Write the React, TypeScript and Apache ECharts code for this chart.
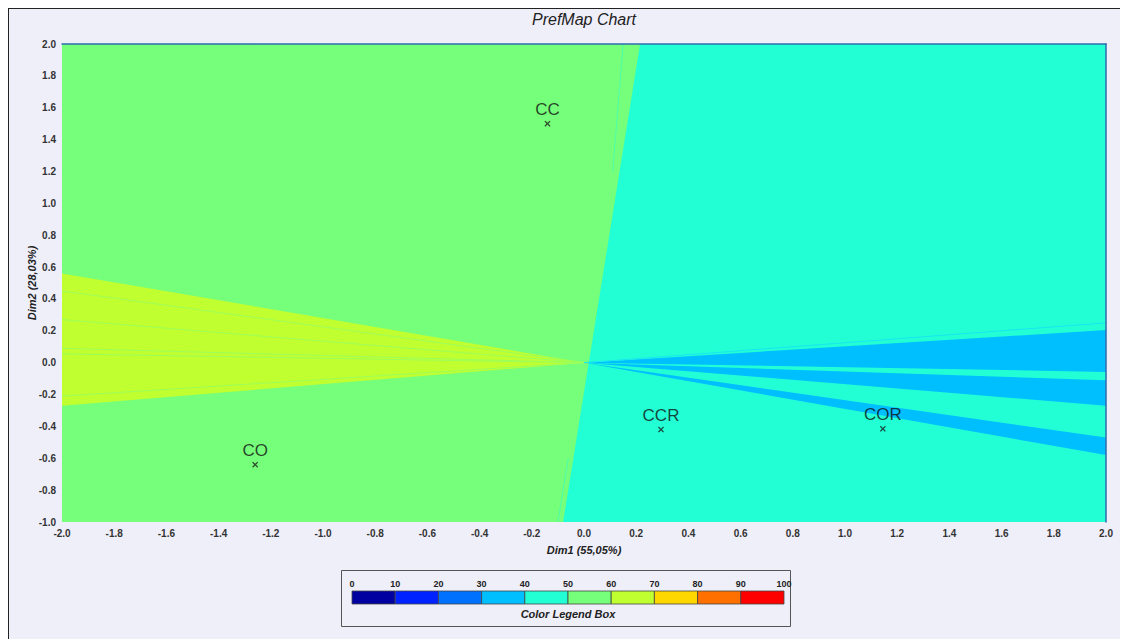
import React, { useEffect, useRef } from "react";
import * as echarts from "echarts";

// ---- data ----
const GREEN = "#76FF7A";
const CYAN = "#22FFD5";
const YELLOW = "#C0FF30";
const BLUE = "#00BFFF";

const xRange = [-2, 2];
const yRange = [-1, 2];

// preference regions (data coordinates)
const greenRegion = [[-2, -1], [2, -1], [2, 2], [-2, 2]];
const cyanRegion = [[0.215, 2], [2, 2], [2, -1], [-0.08, -1]];
const yellowWedge = [[0, 0], [-2, 0.56], [-2, -0.27]];
const blueWedgeA = [[0, 0], [2, 0.205], [2, -0.058]];
const blueWedgeB = [[0, 0], [2, -0.11], [2, -0.27]];
const blueWedgeC = [[0, 0], [2, -0.47], [2, -0.58]];

// thin stripes inside wedges
const greenStripes = [
  [[0, 0], [-2, 0.45]],
  [[0, 0], [-2, 0.27]],
  [[0, 0], [-2, 0.09]],
  [[0, 0], [-2, 0.055]],
  [[0, 0], [-2, -0.21]],
];
const cyanStripes = [[[0, 0], [2, 0.25]]];
const boundaryStripes = [[[0.15, 2], [0.11, 1.2]], [[-0.1, -1], [-0.06, -0.6]]];

// products
const productNames = ["CC", "CO", "CCR", "COR"];
const productX = [-0.14, -1.26, 0.295, 1.145];
const productY = [1.5, -0.64, -0.42, -0.415];

// colour legend
const legendTicks = ["0", "10", "20", "30", "40", "50", "60", "70", "80", "90", "100"];
const legendColors = [
  "#0000A0", "#0022FF", "#0070FF", "#00BFFF", "#22FFD5",
  "#76FF7A", "#C0FF30", "#FFD700", "#FF7000", "#FF0000",
];

const FONT = "'Liberation Sans', Arial, sans-serif";

export default function App() {
  const ref = useRef<HTMLDivElement>(null);

  useEffect(() => {
    if (!ref.current) return;
    const chart = echarts.init(ref.current, null, { renderer: "svg" });

    const polygons = [
      { pts: greenRegion, color: GREEN },
      { pts: cyanRegion, color: CYAN },
      { pts: yellowWedge, color: YELLOW },
      { pts: blueWedgeA, color: BLUE },
      { pts: blueWedgeB, color: BLUE },
      { pts: blueWedgeC, color: BLUE },
    ];
    const lines = [
      ...greenStripes.map((p) => ({ pts: p, color: "#9CFF5A" })),
      ...cyanStripes.map((p) => ({ pts: p, color: "#18E6F0" })),
      ...boundaryStripes.map((p) => ({ pts: p, color: "#4CFFAA" })),
    ];

    // legend graphics
    const bx = 343, by = 582, bw = 432, bh = 13;
    const cw = bw / legendColors.length;
    const legendEls: any[] = [
      {
        type: "rect",
        shape: { x: 332.5, y: 561.5, width: 449, height: 56 },
        style: { fill: "none", stroke: "#555", lineWidth: 1 },
      },
    ];
    legendColors.forEach((c, i) => {
      legendEls.push({
        type: "rect",
        shape: { x: bx + i * cw, y: by, width: cw, height: bh },
        style: { fill: c, stroke: "#444", lineWidth: 0.8 },
      });
    });
    legendTicks.forEach((t, i) => {
      legendEls.push({
        type: "text",
        x: bx + i * cw,
        y: 575,
        style: {
          text: t,
          fill: "#222",
          font: `bold 9px ${FONT}`,
          align: "center",
          verticalAlign: "middle",
        },
      });
    });
    legendEls.push({
      type: "text",
      x: 559,
      y: 605,
      style: {
        text: "Color Legend Box",
        fill: "#222",
        font: `italic bold 11px ${FONT}`,
        align: "center",
        verticalAlign: "middle",
      },
    });
    legendEls.push({
      type: "text",
      x: 575,
      y: 10,
      style: {
        text: "PrefMap Chart",
        fill: "#222",
        font: `italic 16px ${FONT}`,
        align: "center",
        verticalAlign: "middle",
      },
    });

    const axisLabel = {
      color: "#333",
      fontFamily: FONT,
      fontWeight: "bold" as const,
      fontSize: 10,
      formatter: (v: number) => v.toFixed(1),
    };

    chart.setOption({
      animation: false,
      backgroundColor: "transparent",
      grid: { left: 53, top: 35, width: 1044, height: 478, containLabel: false },
      xAxis: [
        {
          type: "value",
          min: xRange[0],
          max: xRange[1],
          interval: 0.2,
          axisLine: { show: false, onZero: false },
          axisTick: { show: false },
          splitLine: { show: false },
          axisLabel: { ...axisLabel, margin: 6 },
          name: "Dim1 (55,05%)",
          nameLocation: "middle",
          nameGap: 22,
          nameMoveOverlap: false,
          nameTextStyle: {
            color: "#222",
            fontFamily: FONT,
            fontWeight: "bold",
            fontStyle: "italic",
            fontSize: 11,
          },
        },
        {
          type: "value",
          position: "top",
          min: xRange[0],
          max: xRange[1],
          z: 10,
          axisLine: { show: true, onZero: false, lineStyle: { color: "#2C6DAE", width: 1.5 } },
          axisTick: { show: false },
          axisLabel: { show: false },
          splitLine: { show: false },
        },
      ],
      yAxis: [
        {
          type: "value",
          min: yRange[0],
          max: yRange[1],
          interval: 0.2,
          axisLine: { show: false, onZero: false },
          axisTick: { show: false },
          splitLine: { show: false },
          axisLabel: { ...axisLabel, margin: 6 },
          name: "Dim2 (28,03%)",
          nameLocation: "middle",
          nameRotate: 90,
          nameGap: 25,
          nameMoveOverlap: false,
          nameTextStyle: {
            color: "#222",
            fontFamily: FONT,
            fontWeight: "bold",
            fontStyle: "italic",
            fontSize: 11,
          },
        },
        {
          type: "value",
          position: "right",
          min: yRange[0],
          max: yRange[1],
          z: 10,
          axisLine: { show: true, onZero: false, lineStyle: { color: "#2C6DAE", width: 1.5 } },
          axisTick: { show: false },
          axisLabel: { show: false },
          splitLine: { show: false },
        },
      ],
      graphic: legendEls,
      series: [
        {
          type: "custom",
          clip: true,
          silent: true,
          z: 1,
          data: polygons.map((_, i) => [i]),
          renderItem: (params: any, api: any) => {
            const p = polygons[params.dataIndex];
            return {
              type: "polygon",
              shape: { points: p.pts.map((q) => api.coord(q)) },
              style: { fill: p.color },
            };
          },
        },
        {
          type: "custom",
          clip: true,
          silent: true,
          z: 2,
          data: lines.map((_, i) => [i]),
          renderItem: (params: any, api: any) => {
            const l = lines[params.dataIndex];
            return {
              type: "polyline",
              shape: { points: l.pts.map((q) => api.coord(q)) },
              style: { stroke: l.color, lineWidth: 1, fill: "none" },
            };
          },
        },
        {
          type: "scatter",
          z: 5,
          symbol:
            "path://M0,1.5L1.5,0L5,3.5L8.5,0L10,1.5L6.5,5L10,8.5L8.5,10L5,6.5L1.5,10L0,8.5L3.5,5Z",
          symbolSize: 6,
          itemStyle: { color: "#1a1a1a" },
          label: {
            show: true,
            position: "top",
            distance: 3,
            formatter: (p: any) => p.name,
            color: "#111",
            fontFamily: FONT,
            fontSize: 17,
          },
          data: productNames.map((n, i) => ({ name: n, value: [productX[i], productY[i]] })),
        },
      ],
    });

    return () => chart.dispose();
  }, []);

  return (
    <div
      style={{
        width: 1120,
        height: 631,
        boxSizing: "border-box",
        borderTop: "1px solid #222",
        borderLeft: "1px solid #222",
        background: "#EFEFFA",
        overflow: "hidden",
      }}
    >
      <div ref={ref} style={{ width: 1119, height: 630 }} />
    </div>
  );
}
